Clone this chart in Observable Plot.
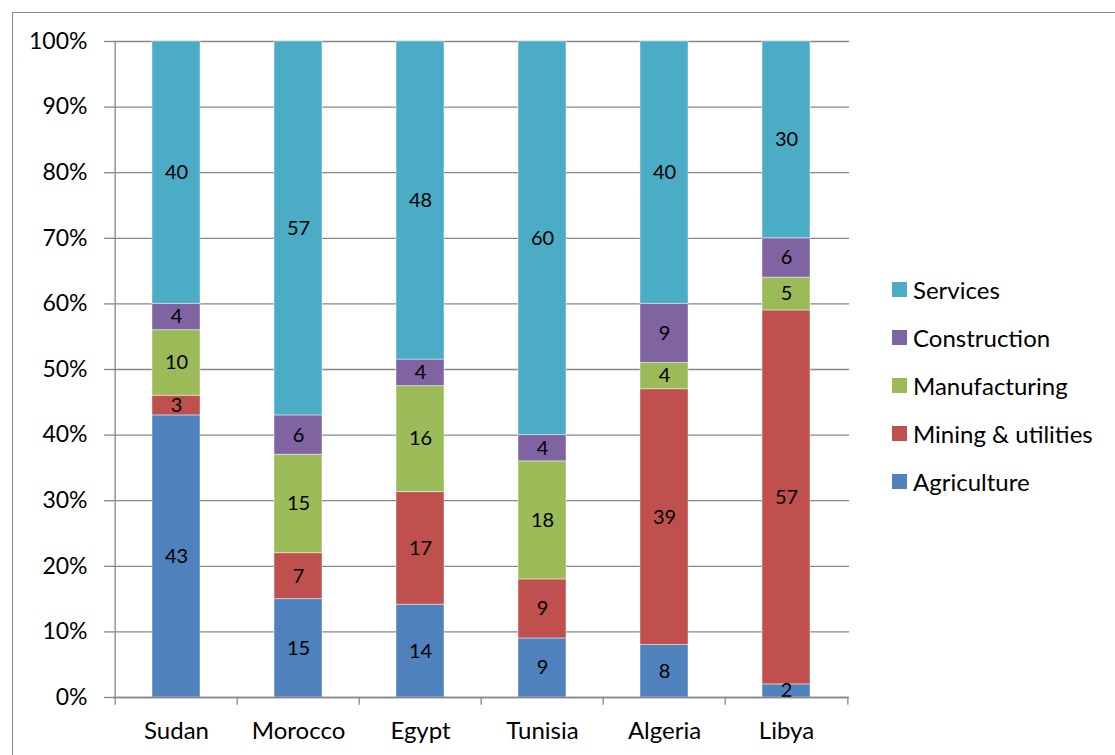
<!DOCTYPE html>
<html>
<head>
<meta charset="utf-8">
<script src="https://cdn.jsdelivr.net/npm/d3@7"></script>
<script src="https://cdn.jsdelivr.net/npm/@observablehq/plot@0.6"></script>
<style>
  html, body { margin: 0; padding: 0; background: #fff; width: 1115px; height: 755px; overflow: hidden; }
  #frame { position: absolute; left: 12px; top: 12px; width: 1200px; height: 900px; border: 1.5px solid #8a8a8a; box-sizing: border-box; }
  #chart { position: absolute; left: 0; top: 0; }
  #legend { position: absolute; left: 892px; top: 265px; font-family: Lato, sans-serif; font-size: 24px; color: #000; }
  .item { height: 48px; display: flex; align-items: center; }
  .swatch { width: 15px; height: 15px; margin-right: 6px; flex: none; }
</style>
</head>
<body>
<div id="frame"></div>
<div id="chart"></div>
<div id="legend"></div>
<script>
// Countries along the x axis
const countries = ["Sudan", "Morocco", "Egypt", "Tunisia", "Algeria", "Libya"];
// Sectors, bottom of each stack first
const sectors = ["Agriculture", "Mining & utilities", "Manufacturing", "Construction", "Services"];
// Share of GDP by sector (%), one value per country
const agriculture   = [43, 15, 14,  9,  8,  2];
const mining        = [ 3,  7, 17,  9, 39, 57];
const manufacturing = [10, 15, 16, 18,  4,  5];
const construction  = [ 4,  6,  4,  4,  9,  6];
const services      = [40, 57, 48, 60, 40, 30];
// Percent axis ticks
const yTicks = [0, 0.1, 0.2, 0.3, 0.4, 0.5, 0.6, 0.7, 0.8, 0.9, 1];

const colors = ["#4f81bd", "#c0504d", "#9bbb59", "#8064a2", "#4bacc6"];
const series = [agriculture, mining, manufacturing, construction, services];

const rows = countries.flatMap((country, i) =>
  sectors.map((sector, j) => ({country, sector, value: series[j][i]}))
);

const W = 870, marginLeft = 113, marginRight = 21;
const step = (W - marginLeft - marginRight) / countries.length;
const gray = "#878787";
const stack = {x: "country", y: "value", z: "sector", offset: "normalize", order: sectors};

const chart = Plot.plot({
  width: W,
  height: 755,
  marginLeft,
  marginRight,
  marginTop: 41,
  marginBottom: 58,
  style: {fontFamily: "Lato, sans-serif", fontSize: "23px", color: "#000", background: "transparent", overflow: "visible"},
  x: {domain: countries, paddingInner: 0.609, paddingOuter: 0.3045, align: 0.5},
  y: {domain: [0, 1]},
  color: {domain: sectors, range: colors},
  marks: [
    Plot.gridY(yTicks, {stroke: gray, strokeOpacity: 1, strokeWidth: 1.3}),
    Plot.barY(rows, Plot.stackY({...stack, fill: "sector", stroke: "#ffffff", strokeOpacity: 0.45, strokeWidth: 1})),
    Plot.text(rows, Plot.stackY({...stack, text: "value", fill: "#000", fontSize: 20})),
    // vertical y axis line
    Plot.ruleX([countries[0]], {x: d => d, y1: 0, y2: 1, dx: -step / 2, stroke: gray, strokeWidth: 1.3}),
    // baseline
    Plot.ruleY([0], {stroke: gray, strokeWidth: 1.3}),
    // category boundary ticks below the baseline
    Plot.ruleX(countries, {x: d => d, y1: 0, y2: -0.012, dx: -step / 2, stroke: gray, strokeWidth: 1.3}),
    Plot.ruleX([countries[countries.length - 1]], {x: d => d, y1: 0, y2: -0.012, dx: step / 2, stroke: gray, strokeWidth: 1.3}),
    Plot.axisY({ticks: yTicks, tickFormat: d3.format(".0%"), tickSize: 9, tickPadding: 17, stroke: gray, strokeWidth: 1.3, strokeOpacity: 1, label: null}),
    Plot.axisX({tickSize: 0, tickPadding: 24, fontSize: 24, label: null})
  ]
});
document.getElementById("chart").appendChild(chart);

// Legend, top entry is the top of the stack
const legend = d3.select("#legend");
sectors.slice().reverse().forEach(s => {
  const item = legend.append("div").attr("class", "item");
  item.append("div").attr("class", "swatch").style("background", colors[sectors.indexOf(s)]);
  item.append("span").text(s);
});
</script>
</body>
</html>
